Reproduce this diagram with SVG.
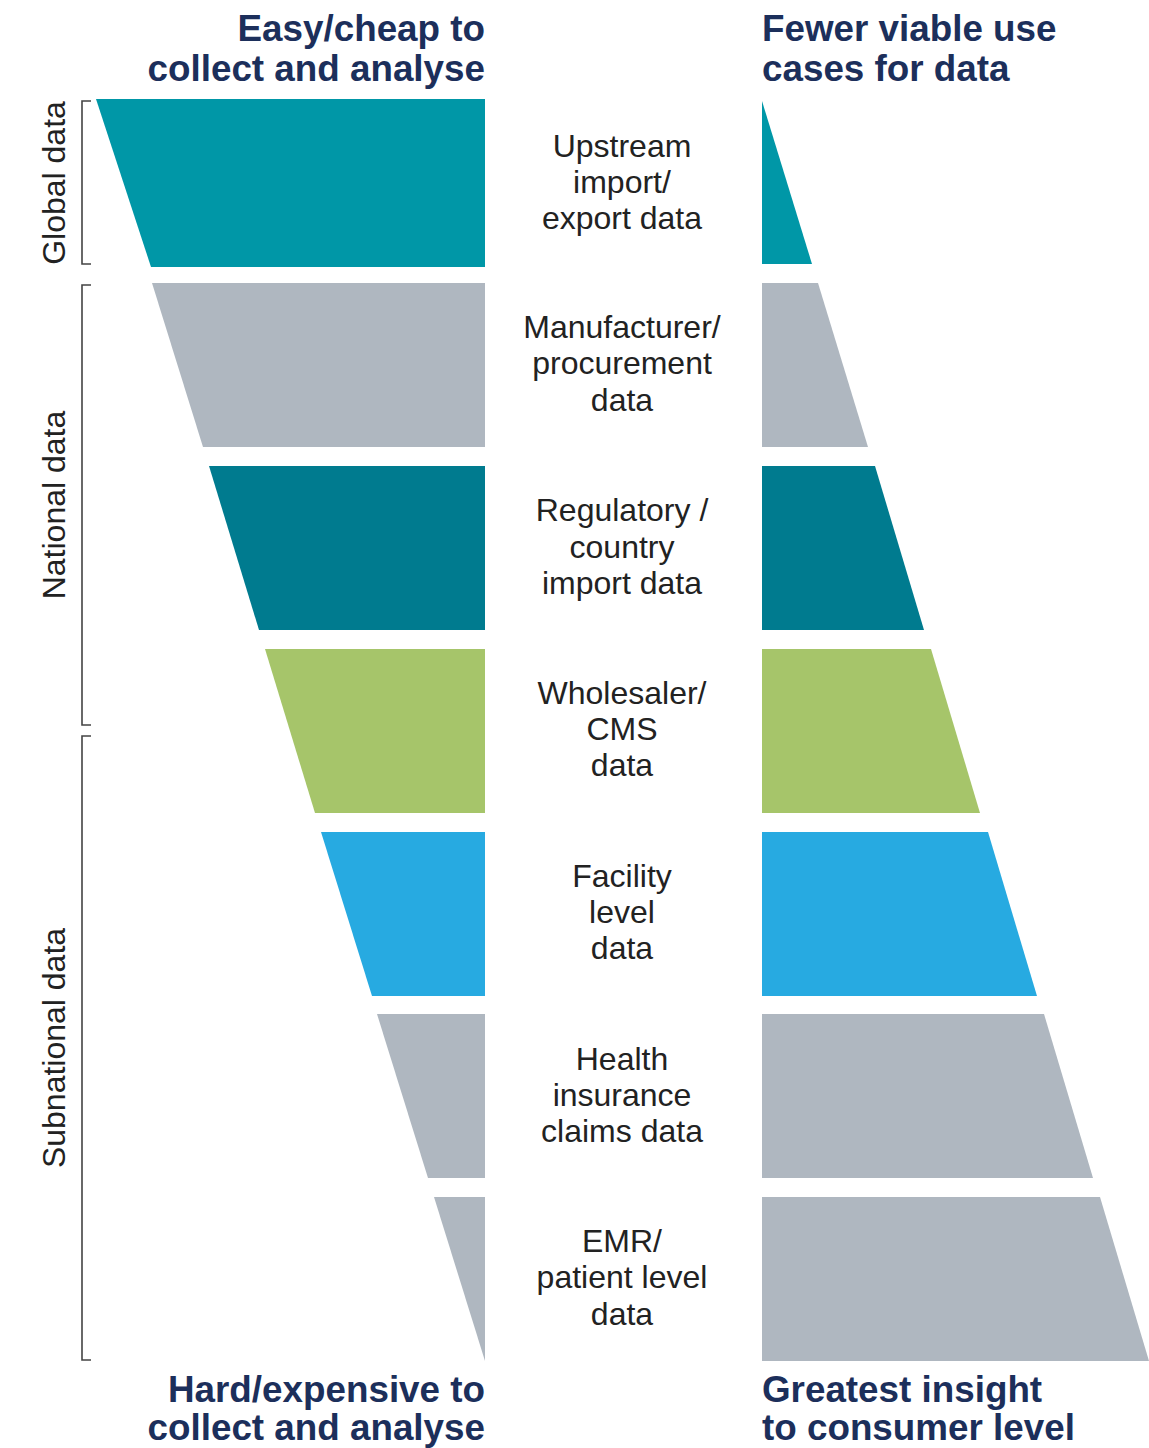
<svg xmlns="http://www.w3.org/2000/svg" width="1149" height="1448" viewBox="0 0 1149 1448">
<style>
.head{font-family:"Liberation Sans",Arial,sans-serif;font-weight:bold;font-size:36.8px;fill:#1c2f5b}
.lbl{font-family:"Liberation Sans",Arial,sans-serif;font-size:32px;fill:#222;text-anchor:middle}
.side{font-family:"Liberation Sans",Arial,sans-serif;font-size:32px;fill:#222;text-anchor:middle}
.br{fill:none;stroke:#444;stroke-width:1.6}
.teal{fill:#0097a7}
.gray{fill:#afb7c0}
.dteal{fill:#007b8f}
.green{fill:#a6c56a}
.blue{fill:#27aae1}
</style>
<rect width="1149" height="1448" fill="#fff"/>
<g id="headings">
<text class="head" x="485" y="41" text-anchor="end">Easy/cheap to</text>
<text class="head" x="485" y="81" text-anchor="end">collect and analyse</text>
<text class="head" x="762" y="41">Fewer viable use</text>
<text class="head" x="762" y="81">cases for data</text>
<text class="head" x="485" y="1402" text-anchor="end">Hard/expensive to</text>
<text class="head" x="485" y="1440" text-anchor="end">collect and analyse</text>
<text class="head" x="762" y="1402">Greatest insight</text>
<text class="head" x="762" y="1440">to consumer level</text>
</g>
<g id="brackets">
<path class="br" d="M91,101 H82 V264 H91"/>
<path class="br" d="M91,285 H82 V725 H91"/>
<path class="br" d="M91,736 H82 V1360 H91"/>
<text class="side" transform="translate(65,183) rotate(-90)">Global data</text>
<text class="side" transform="translate(65,505) rotate(-90)">National data</text>
<text class="side" transform="translate(65,1048) rotate(-90)">Subnational data</text>
</g>
<g id="row1">
<polygon class="teal" points="96,99 485,99 485,267 151,267"/>
<polygon class="teal" points="762,101 812,264 762,264"/>
<text class="lbl" x="622" y="157">Upstream</text>
<text class="lbl" x="622" y="193">import/</text>
<text class="lbl" x="622" y="229">export data</text>
</g>
<g id="row2">
<polygon class="gray" points="152,283 485,283 485,447 203,447"/>
<polygon class="gray" points="762,283 818,283 868,447 762,447"/>
<text class="lbl" x="622" y="338">Manufacturer/</text>
<text class="lbl" x="622" y="374">procurement</text>
<text class="lbl" x="622" y="411">data</text>
</g>
<g id="row3">
<polygon class="dteal" points="209,466 485,466 485,630 259,630"/>
<polygon class="dteal" points="762,466 875,466 924,630 762,630"/>
<text class="lbl" x="622" y="521">Regulatory /</text>
<text class="lbl" x="622" y="558">country</text>
<text class="lbl" x="622" y="594">import data</text>
</g>
<g id="row4">
<polygon class="green" points="265,649 485,649 485,813 315,813"/>
<polygon class="green" points="762,649 931,649 980,813 762,813"/>
<text class="lbl" x="622" y="704">Wholesaler/</text>
<text class="lbl" x="622" y="740">CMS</text>
<text class="lbl" x="622" y="776">data</text>
</g>
<g id="row5">
<polygon class="blue" points="321,832 485,832 485,996 372,996"/>
<polygon class="blue" points="762,832 988,832 1037,996 762,996"/>
<text class="lbl" x="622" y="887">Facility</text>
<text class="lbl" x="622" y="923">level</text>
<text class="lbl" x="622" y="959">data</text>
</g>
<g id="row6">
<polygon class="gray" points="377,1014 485,1014 485,1178 428,1178"/>
<polygon class="gray" points="762,1014 1044,1014 1093,1178 762,1178"/>
<text class="lbl" x="622" y="1070">Health</text>
<text class="lbl" x="622" y="1106">insurance</text>
<text class="lbl" x="622" y="1142">claims data</text>
</g>
<g id="row7">
<polygon class="gray" points="434,1197 485,1197 485,1361"/>
<polygon class="gray" points="762,1197 1100,1197 1149,1361 762,1361"/>
<text class="lbl" x="622" y="1252">EMR/</text>
<text class="lbl" x="622" y="1288">patient level</text>
<text class="lbl" x="622" y="1325">data</text>
</g>
<g id="connectors"></g>
</svg>
